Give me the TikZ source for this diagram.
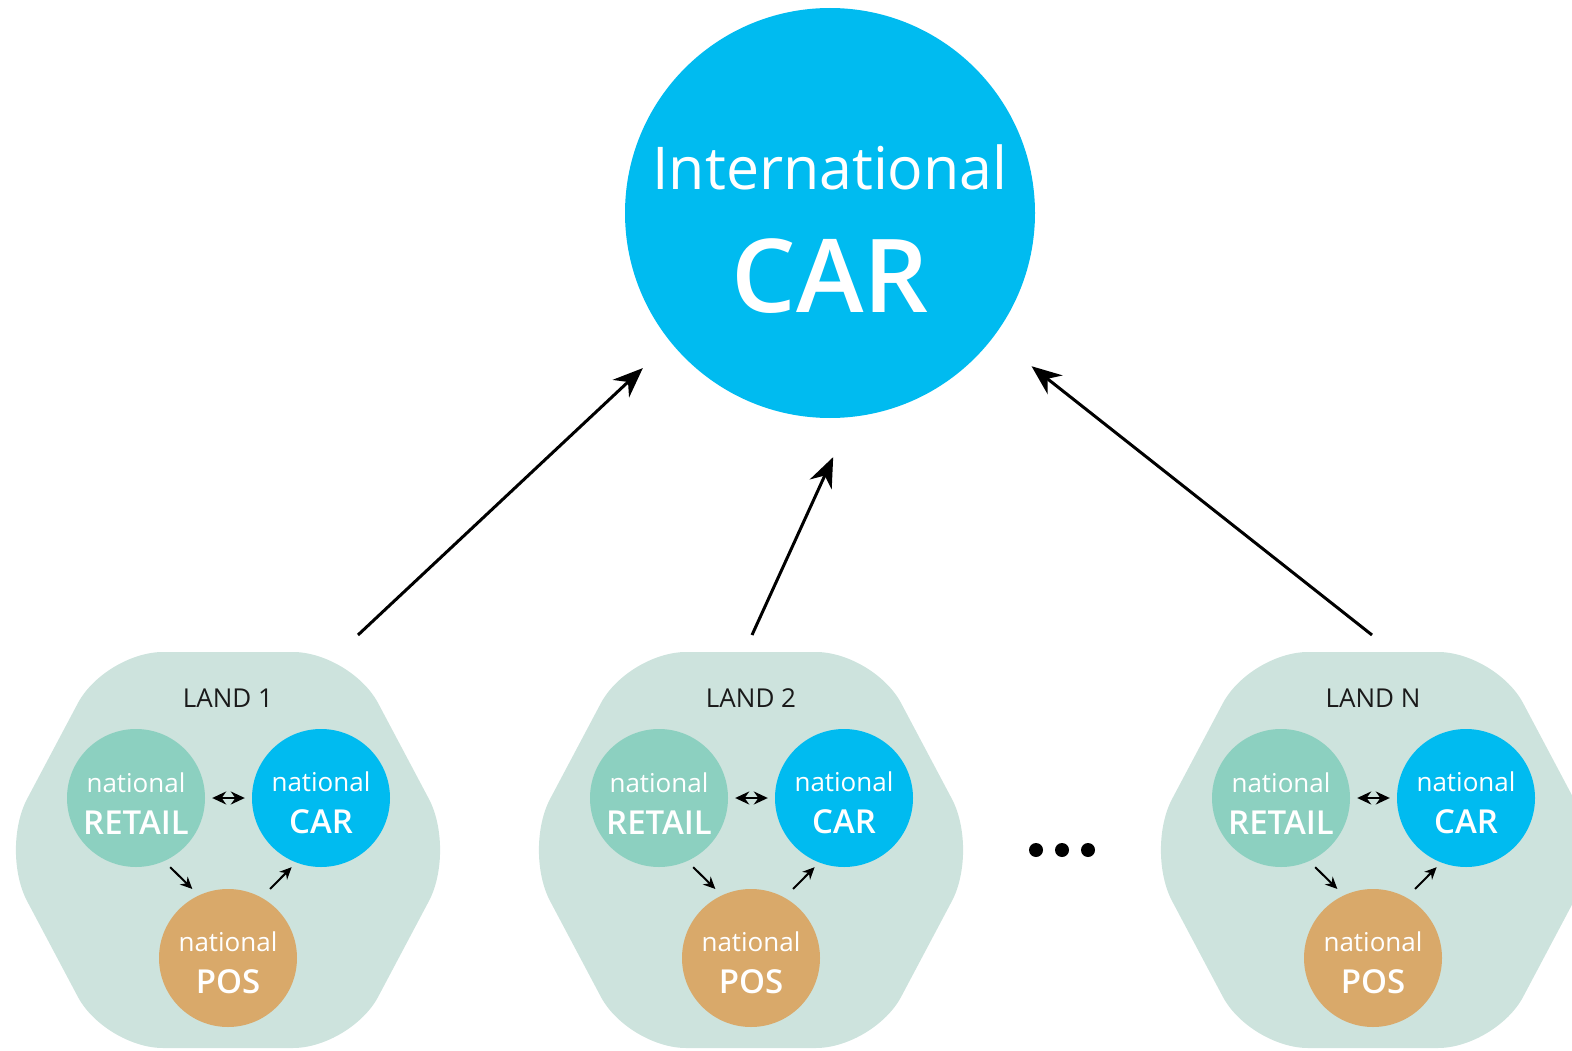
\documentclass[tikz,border=0pt]{standalone}
\usepackage{fontspec}
\setmainfont{Open Sans}[BoldFont={Open Sans Semibold}]
\usetikzlibrary{arrows.meta}

\definecolor{carblue}{RGB}{0,187,240}
\definecolor{landgreen}{RGB}{205,227,221}
\definecolor{retailgreen}{RGB}{140,208,192}
\definecolor{posorange}{RGB}{217,169,106}
\definecolor{inkgray}{RGB}{26,26,26}

\tikzset{
  unit/.style={circle, minimum size=138pt, inner sep=0pt, text=white, align=center,
    text height=72pt, font=\fontsize{26}{42}\selectfont},
  bigarrow/.style={line width=3pt, -{Stealth[length=30pt,width=24pt]}},
  smallarrow/.style={line width=2pt, -{Stealth[length=12pt,width=11pt]}},
  twoway/.style={line width=2pt, {Stealth[length=14pt,width=13pt]}-{Stealth[length=14pt,width=13pt]}},
}
\newcommand{\unittext}[1]{national\\{\fontsize{33}{42}\selectfont\bfseries #1}}

\begin{document}
\begin{tikzpicture}[x=1pt, y=-1pt]
  \useasboundingbox (0,0) rectangle (1572,1051);

  % the international CAR on top
  \node[circle, fill=carblue, minimum size=410pt, inner sep=0pt] (bigcar) at (830,213) {};
  \node[anchor=base, text=white, font=\fontsize{59}{59}\selectfont] (inttext) at (830,190) {International};
  \node[anchor=base, text=white, font=\fontsize{102}{102}\selectfont\bfseries] (cartext) at (830,312) {CAR};

  % one hexagon per country
  \foreach \cx/\lab/\i in {228/1/1, 751/2/2, 1373/N/3} {
    \fill[landgreen, rounded corners=58pt] (\cx,652) -- (\cx+123,652) -- (\cx+228,850)
      -- (\cx+123,1048) -- (\cx-123,1048) -- (\cx-228,850) -- (\cx-123,652) -- cycle;
    \node[text=inkgray, font=\fontsize{26}{26}\selectfont] (land\i) at (\cx,698) {LAND \lab};
    \node[unit, fill=retailgreen] (retail\i) at (\cx-92,798) {\unittext{RETAIL}};
    \node[unit, fill=carblue] (car\i) at (\cx+93,798) {\unittext{CAR}};
    \node[unit, fill=posorange] (pos\i) at (\cx,958) {\unittext{POS}};
    % exchange inside the country
    \draw[twoway, shorten <=7pt, shorten >=7pt] (retail\i) -- (car\i);
    \draw[smallarrow, shorten <=8.5pt, shorten >=9pt] (retail\i.-66) -- (pos\i.115);
    \draw[smallarrow, shorten <=12pt, shorten >=6.5pt] (pos\i.61) -- (car\i.-111);
  }

  % more countries
  \foreach \dx in {1036,1062,1088}
    \fill[black] (\dx,850) circle[radius=7pt];

  % reporting up to the international CAR
  \coordinate (top1) at (358,635);
  \coordinate (top2) at (752,635);
  \coordinate (top3) at (1372,635);
  \draw[bigarrow, shorten >=38pt] (top1) -- (bigcar.219);
  \draw[bigarrow, shorten >=44pt] (top2) -- (bigcar.-84.7);
  \draw[bigarrow, shorten >=48pt] (top3) -- (bigcar.-37.9);
\end{tikzpicture}
\end{document}
